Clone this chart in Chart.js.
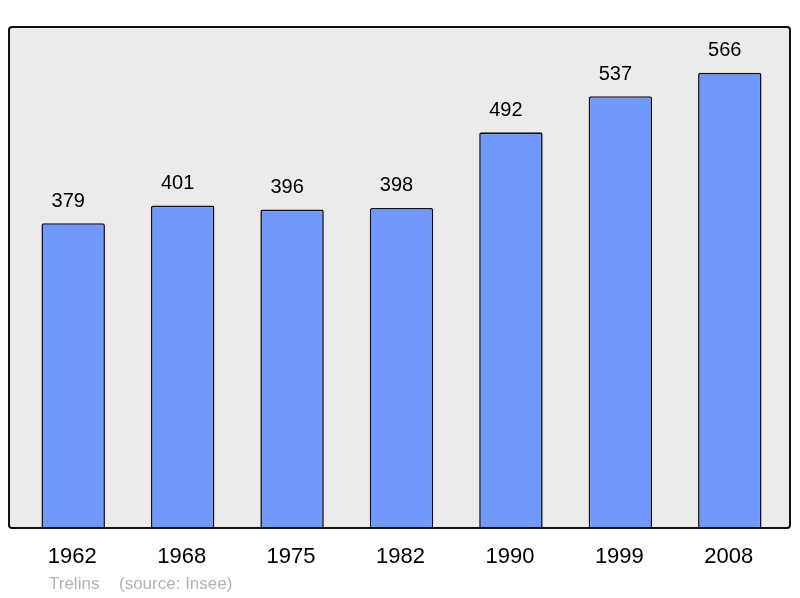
<!DOCTYPE html>
<html>
<head>
<meta charset="utf-8">
<script src="https://cdn.jsdelivr.net/npm/chart.js@4/dist/chart.umd.min.js"></script>
<style>
html,body{margin:0;padding:0;background:#fff;}
#wrap{width:800px;height:598px;position:relative;}
</style>
</head>
<body>
<div id="wrap"><canvas id="c" width="800" height="598"></canvas></div>
<script>
const years = ["1962","1968","1975","1982","1990","1999","2008"];
const population = [379,401,396,398,492,537,566];
const sourceName = "Trelins";
const sourceText = "(source: Insee)";

const FONT = '"Liberation Sans", Arial, sans-serif';

function boxPath(ctx) {
  const x0 = 9, y0 = 27, x1 = 790, y1 = 528, r = 3;
  ctx.beginPath();
  ctx.moveTo(x0 + r, y0);
  ctx.lineTo(x1 - r, y0);
  ctx.quadraticCurveTo(x1, y0, x1, y0 + r);
  ctx.lineTo(x1, y1 - r);
  ctx.quadraticCurveTo(x1, y1, x1 - r, y1);
  ctx.lineTo(x0 + r, y1);
  ctx.quadraticCurveTo(x0, y1, x0, y1 - r);
  ctx.lineTo(x0, y0 + r);
  ctx.quadraticCurveTo(x0, y0, x0 + r, y0);
  ctx.closePath();
}

const decor = {
  id: 'decor',
  beforeDraw(chart) {
    const ctx = chart.ctx;
    ctx.save();
    ctx.fillStyle = '#fff';
    ctx.fillRect(0, 0, chart.width, chart.height);
    boxPath(ctx);
    ctx.fillStyle = '#ebebeb';
    ctx.fill();
    ctx.restore();
  },
  afterDatasetsDraw(chart) {
    const ctx = chart.ctx;
    const xs = chart.scales.x, ys = chart.scales.y;
    ctx.save();
    boxPath(ctx);
    ctx.lineWidth = 2;
    ctx.strokeStyle = '#111';
    ctx.stroke();

    ctx.textAlign = 'center';
    ctx.textBaseline = 'middle';
    ctx.fillStyle = '#000';
    ctx.font = '20px ' + FONT;
    population.forEach((v, i) => {
      const x = xs.getPixelForValue(i);
      const y = ys.getPixelForValue(v);
      ctx.fillText(String(v), x - 5, y - 22);
    });
    ctx.font = '22px ' + FONT;
    years.forEach((yr, i) => {
      const x = xs.getPixelForValue(i);
      ctx.fillText(yr, x - 1, 557);
    });
    ctx.textAlign = 'left';
    ctx.font = '17px ' + FONT;
    ctx.fillStyle = '#b3b3b3';
    ctx.fillText(sourceName, 49, 584);
    ctx.fillText(sourceText, 119, 584);
    ctx.restore();
  }
};

new Chart(document.getElementById('c'), {
  type: 'bar',
  data: {
    labels: years,
    datasets: [{
      data: population,
      backgroundColor: 'rgb(112,152,255)',
      borderColor: '#111',
      borderWidth: 1.6,
      borderRadius: 2,
      borderSkipped: 'bottom',
      categoryPercentage: 1,
      barPercentage: 0.58
    }]
  },
  options: {
    responsive: false,
    animation: false,
    devicePixelRatio: 1,
    layout: { padding: { left: 18.5, right: 15.5, top: 27, bottom: 70 } },
    plugins: { legend: { display: false }, tooltip: { enabled: false } },
    scales: {
      x: { display: false, offset: true },
      y: { display: false, min: 0, max: 623 }
    }
  },
  plugins: [decor]
});
</script>
</body>
</html>
